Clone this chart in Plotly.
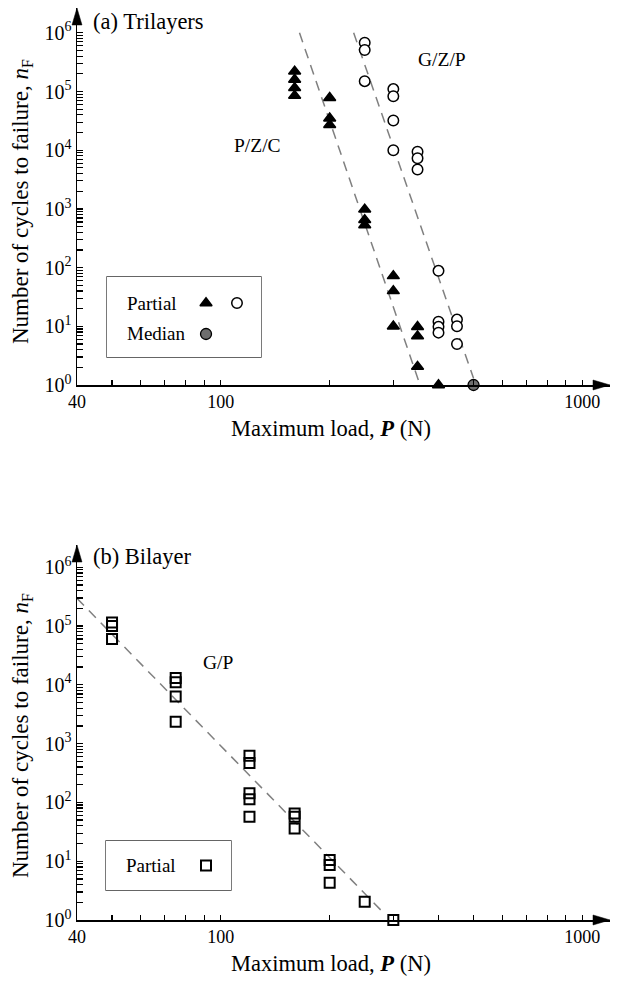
import math
import plotly.graph_objects as go

# ---------------- data ----------------
# (a) Trilayers
pzc_P = [160, 160, 160, 160, 200, 200, 200, 250, 250, 250, 300, 300, 300, 350, 350, 350, 400]
pzc_n = [2.2e5, 1.6e5, 1.15e5, 8.5e4, 7.8e4, 3.5e4, 2.7e4, 980, 650, 530, 72, 40, 10, 9.8, 6.8, 2.05, 1]
gzp_P = [250, 250, 250, 300, 300, 300, 300, 350, 350, 350, 400, 400, 400, 400, 450, 450, 450]
gzp_n = [6.8e5, 5.1e5, 1.5e5, 1.1e5, 8.3e4, 3.2e4, 1.0e4, 9.4e3, 7.3e3, 4.7e3, 88, 12, 9.8, 7.8, 13, 10, 5.0]
median_P = [500]
median_n = [1]
pzc_fit_P = [165, 352]
pzc_fit_n = [1e6, 1.2]
gzp_fit_P = [233, 500]
gzp_fit_n = [1e6, 1.3]

# (b) Bilayer
gp_P = [50, 50, 50, 75, 75, 75, 75, 120, 120, 120, 120, 120, 160, 160, 160, 200, 200, 200, 250, 300]
gp_n = [1.15e5, 1.0e5, 6.0e4, 1.3e4, 1.1e4, 6.3e3, 2.35e3, 620, 470, 143, 113, 57, 65, 57, 36,
        10.5, 8.6, 4.3, 2.05, 1]
gp_fit_P = [40, 280]
gp_fit_n = [2.95e5, 1.38]

x_tickvals = [40, 50, 60, 70, 80, 90, 100, 200, 300, 400, 500, 600, 700, 800, 900, 1000]
x_ticklabels = {40: "40", 100: "100", 1000: "1000"}
y_exponents = [0, 1, 2, 3, 4, 5, 6]

# ---------------- layout helpers ----------------
W, H = 619, 985
FONT = "Liberation Serif"


def px(x):
    return x / W


def py(y):
    return 1 - y / H


x_ticktext = [x_ticklabels.get(v, "") for v in x_tickvals]
y_tickvals, y_ticktext = [], []
for k in y_exponents:
    for m in range(1, 10):
        if k == y_exponents[-1] and m > 1:
            break
        y_tickvals.append(m * 10 ** k)
        y_ticktext.append(f"10<sup>{k}</sup>" if m == 1 else "")

fig = go.Figure()

GRAY = "#808080"
dash = "10px,7px"
TRI = dict(symbol="triangle-up", size=10.5, color="black", line=dict(color="black", width=1.5))
CIR = dict(symbol="circle", size=10.5, color="white", line=dict(color="black", width=1.5))
MED = dict(symbol="circle", size=11, color="#6e6e6e", line=dict(color="black", width=1.3))
SQR = dict(symbol="square", size=10, color="rgba(0,0,0,0)", line=dict(color="black", width=2))

# top panel
fig.add_trace(go.Scatter(x=pzc_fit_P, y=pzc_fit_n, mode="lines", xaxis="x", yaxis="y",
                         line=dict(color=GRAY, width=1.5, dash=dash)))
fig.add_trace(go.Scatter(x=gzp_fit_P, y=gzp_fit_n, mode="lines", xaxis="x", yaxis="y",
                         line=dict(color=GRAY, width=1.5, dash=dash)))
fig.add_trace(go.Scatter(x=pzc_P, y=pzc_n, mode="markers", xaxis="x", yaxis="y", cliponaxis=False,
                         marker=TRI))
fig.add_trace(go.Scatter(x=gzp_P, y=gzp_n, mode="markers", xaxis="x", yaxis="y", cliponaxis=False,
                         marker=CIR))
fig.add_trace(go.Scatter(x=median_P, y=median_n, mode="markers", xaxis="x", yaxis="y", cliponaxis=False,
                         marker=MED))

# bottom panel
fig.add_trace(go.Scatter(x=gp_fit_P, y=gp_fit_n, mode="lines", xaxis="x2", yaxis="y2",
                         line=dict(color=GRAY, width=1.5, dash=dash)))
fig.add_trace(go.Scatter(x=gp_P, y=gp_n, mode="markers", xaxis="x2", yaxis="y2", cliponaxis=False,
                         marker=SQR))

# legend glyphs (overlay axes spanning the legend boxes)
fig.add_trace(go.Scatter(x=[0.643], y=[0.675], mode="markers", xaxis="x3", yaxis="y3", marker=TRI))
fig.add_trace(go.Scatter(x=[0.844], y=[0.675], mode="markers", xaxis="x3", yaxis="y3", marker=CIR))
fig.add_trace(go.Scatter(x=[0.643], y=[0.2875], mode="markers", xaxis="x3", yaxis="y3", marker=MED))
fig.add_trace(go.Scatter(x=[0.8], y=[0.5], mode="markers", xaxis="x4", yaxis="y4", marker=SQR))

XL, XR = 77, 610
x_range = [math.log10(40), math.log10(40) + (XR - XL) / 361.5]


def xaxis_cfg(anchor):
    return dict(type="log", domain=[px(XL), px(XR)], range=x_range, anchor=anchor, automargin=False,
                showline=True, linecolor="black", linewidth=1.5, showgrid=False, zeroline=False,
                ticks="inside", ticklen=5, tickwidth=1.2, tickcolor="black",
                tickmode="array", tickvals=x_tickvals, ticktext=x_ticktext,
                tickfont=dict(family=FONT, size=18, color="black"))


def yaxis_cfg(anchor, top, bottom, decade):
    return dict(type="log", domain=[py(bottom), py(top)], range=[0, (bottom - top) / decade],
                anchor=anchor, automargin=False, showline=True, linecolor="black", linewidth=1.5,
                showgrid=False, zeroline=False, ticks="inside", ticklen=6, tickwidth=1.2, tickcolor="black",
                tickmode="array", tickvals=y_tickvals, ticktext=y_ticktext,
                tickfont=dict(family=FONT, size=20, color="black"))


TOP_T, TOP_B = 8, 385
BOT_T, BOT_B = 545, 920

legend_top = (107, 261, 277, 357)
legend_bot = (106, 231, 841, 890)

fig.update_layout(
    width=W, height=H, margin=dict(l=0, r=0, t=0, b=0, autoexpand=False),
    paper_bgcolor="white", plot_bgcolor="white", showlegend=False,
    xaxis=xaxis_cfg("y"),
    yaxis=yaxis_cfg("x", TOP_T, TOP_B, 58.7),
    xaxis2=xaxis_cfg("y2"),
    yaxis2=yaxis_cfg("x2", BOT_T, BOT_B, 58.8),
    xaxis3=dict(domain=[px(legend_top[0]), px(legend_top[1])], range=[0, 1], visible=False,
                anchor="y3", automargin=False),
    yaxis3=dict(domain=[py(legend_top[3]), py(legend_top[2])], range=[0, 1], visible=False,
                anchor="x3", automargin=False),
    xaxis4=dict(domain=[px(legend_bot[0]), px(legend_bot[1])], range=[0, 1], visible=False,
                anchor="y4", automargin=False),
    yaxis4=dict(domain=[py(legend_bot[3]), py(legend_bot[2])], range=[0, 1], visible=False,
                anchor="x4", automargin=False),
)

shapes = []
for (l, r, t, b) in (legend_top, legend_bot):
    shapes.append(dict(type="rect", xref="paper", yref="paper", x0=px(l), x1=px(r), y0=py(b), y1=py(t),
                       line=dict(color="#333333", width=1.3), fillcolor="rgba(0,0,0,0)", layer="below"))


def tri(pts):
    s = "M " + " L ".join(f"{px(a):.5f},{py(b):.5f}" for a, b in pts) + " Z"
    return dict(type="path", xref="paper", yref="paper", path=s, fillcolor="black",
                line=dict(color="black", width=0.5))


for (t, b) in ((TOP_T, TOP_B), (BOT_T, BOT_B)):
    shapes.append(tri([(XL, t), (XL - 5, t + 17), (XL + 5, t + 17)]))
    shapes.append(tri([(XR, b), (XR - 17, b - 5), (XR - 17, b + 5)]))
fig.update_layout(shapes=shapes)

ann = []


def text(x, y, s, size, xanchor="center", angle=0):
    ann.append(dict(x=px(x), y=py(y), xref="paper", yref="paper", text=s, showarrow=False,
                    xanchor=xanchor, yanchor="middle", textangle=angle,
                    font=dict(family=FONT, size=size, color="black")))


text(91, 21, "(a) Trilayers", 22.5, "left")
text(91, 556, "(b) Bilayer", 22.5, "left")
text(257, 145, "P/Z/C", 19.5)
text(442, 60, "G/Z/P", 19.5)
text(218, 662, "G/P", 19.5)
text(125, 303, "Partial", 19, "left")
text(125, 334, "Median", 19, "left")
text(124, 865, "Partial", 19, "left")
xt = "Maximum load, <b><i>P</i></b> (N)"
yt = "Number of cycles to failure, <i>n</i><sub>F</sub>"
text(331, 428, xt, 22.5)
text(331, 963, xt, 22.5)
text(22, 202, yt, 23, angle=-90)
text(22, 736, yt, 23, angle=-90)
fig.update_layout(annotations=ann)

fig.write_html("out.html", config={"displayModeBar": False, "staticPlot": True},
               post_script="document.body.style.margin='0px';document.body.style.overflow='hidden';")
